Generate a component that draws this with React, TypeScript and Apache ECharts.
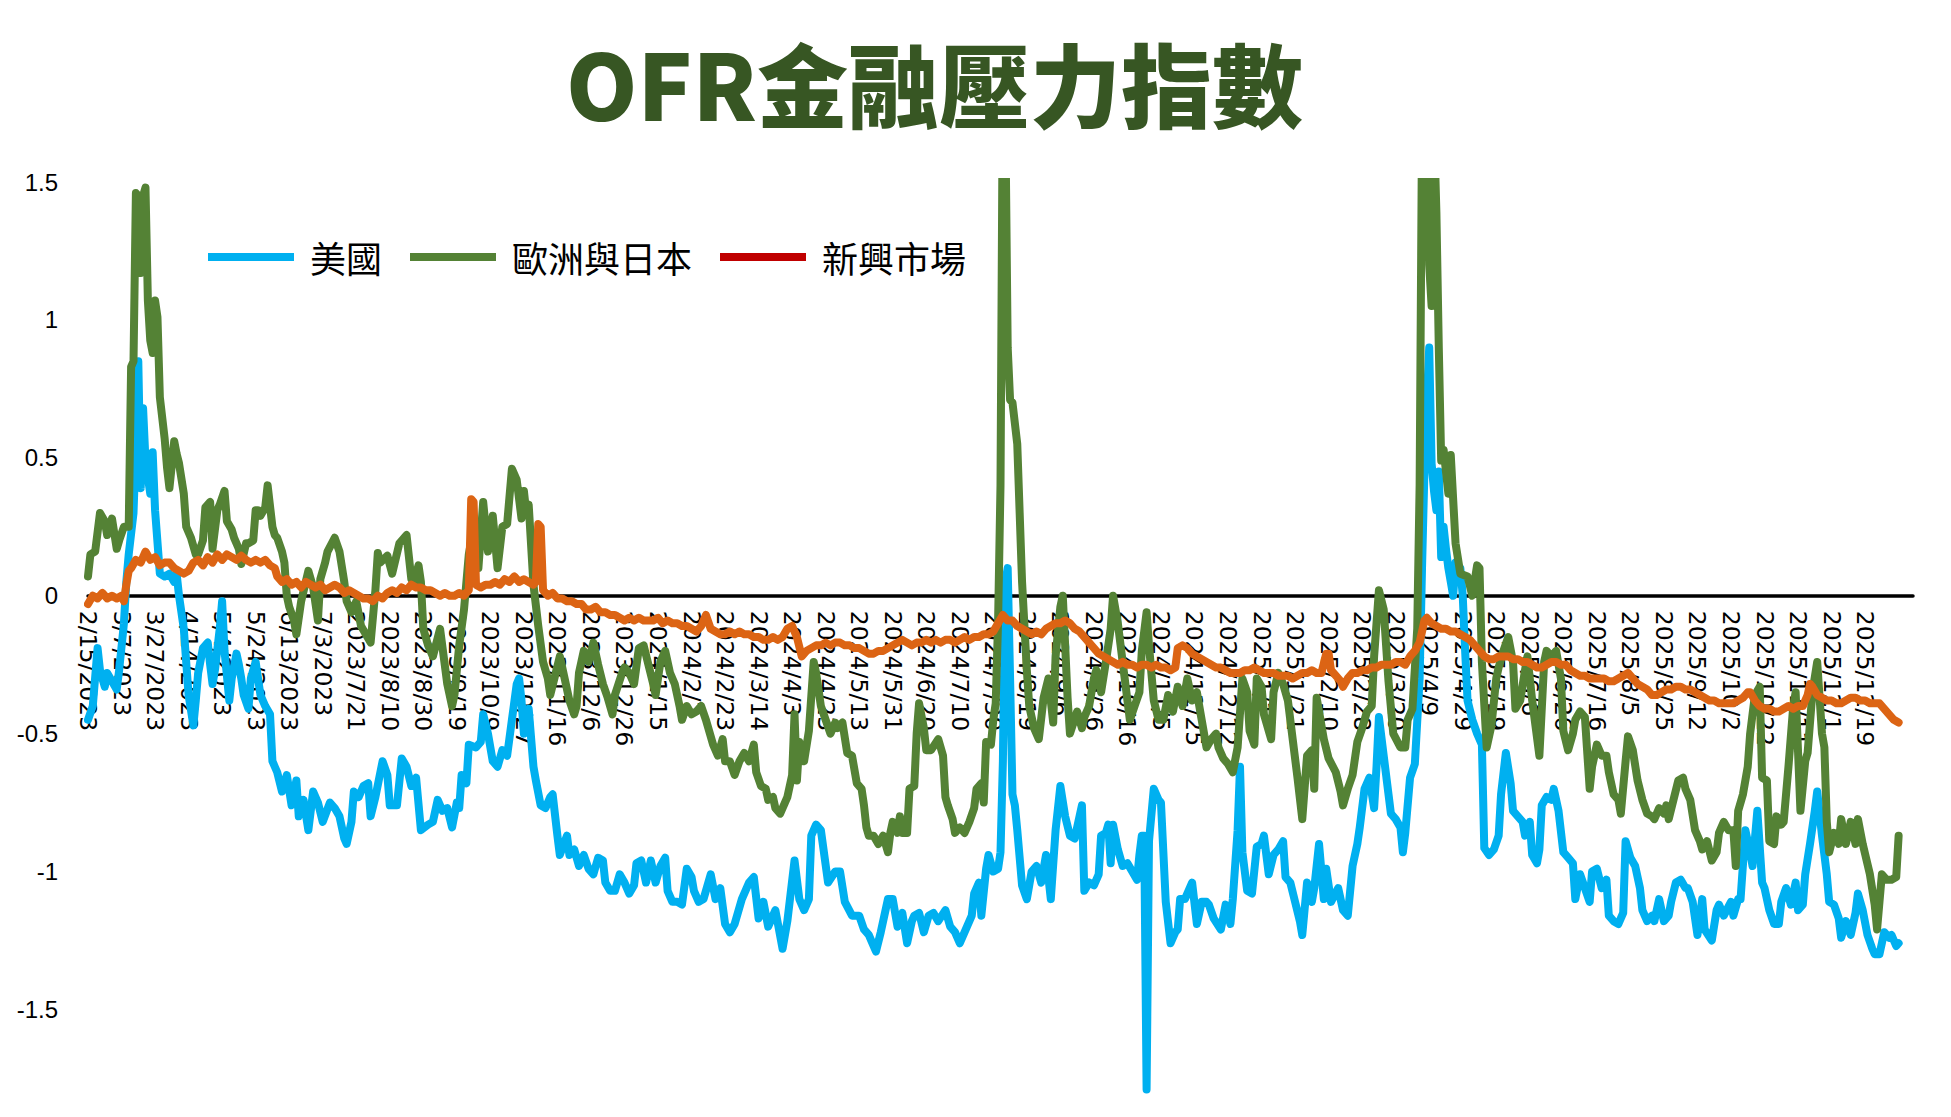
import React, { useEffect, useRef } from 'react';
import * as echarts from 'echarts';

// ---- categories: every trading weekday from START_DATE ----
const START_DATE = '2023-02-15';
const DAY_COUNT = 757;
const EXCLUDED_DATES = ['2024-02-19'];
const EXTRA_DATES = ['2024-11-30'];
const LABEL_STEP = 14;
const LAST_LABEL_INDEX = 742;
const AXIS_EXTRA = 6;

const TITLE = 'OFR金融壓力指數';
const SERIES_NAMES = ['美國', '歐洲與日本', '新興市場'];
const Y_LABELS = [-1.5, -1, -0.5, 0, 0.5, 1, 1.5];
const Y_MIN = -1.89;
const Y_MAX = 1.5;

// [weekday index, value]
const US: number[][] = [
  [0,-0.45],[2,-0.40],[4,-0.19],[5,-0.27],[7,-0.33],[8,-0.28],[10,-0.31],[12,-0.34],[13,-0.27],[15,-0.1],[16,0.05],[17,0.15],[19,0.3],[20,0.55],[21,0.85],[22,0.39],[23,0.68],[24,0.49],[26,0.37],[27,0.52],[28,0.31],[30,0.08],[32,0.07],[34,0.08],[36,0.05],[37,0.08],[38,0.0],[39,-0.06],[40,-0.12],[42,-0.36],[44,-0.47],[45,-0.38],[46,-0.28],[48,-0.19],[50,-0.17],[51,-0.25],[52,-0.32],[53,-0.27],[55,-0.12],[56,-0.02],[57,-0.2],[59,-0.38],[60,-0.3],[62,-0.21],[63,-0.25],[64,-0.3],[65,-0.36],[67,-0.41],[68,-0.3],[70,-0.24],[71,-0.3],[72,-0.36],[74,-0.4],[76,-0.43],[77,-0.6],[78,-0.62],[79,-0.64],[81,-0.71],[82,-0.68],[83,-0.65],[85,-0.76],[87,-0.67],[88,-0.8],[90,-0.74],[92,-0.85],[94,-0.71],[96,-0.75],[98,-0.82],[101,-0.75],[103,-0.77],[105,-0.8],[107,-0.88],[108,-0.9],[110,-0.82],[111,-0.71],[113,-0.73],[115,-0.69],[117,-0.68],[118,-0.8],[120,-0.73],[123,-0.6],[125,-0.65],[126,-0.76],[129,-0.76],[131,-0.59],[133,-0.62],[135,-0.69],[137,-0.66],[139,-0.85],[142,-0.83],[144,-0.82],[146,-0.74],[148,-0.78],[150,-0.77],[152,-0.84],[154,-0.75],[155,-0.77],[156,-0.65],[158,-0.68],[159,-0.54],[162,-0.55],[164,-0.53],[165,-0.43],[167,-0.5],[169,-0.6],[171,-0.62],[173,-0.56],[175,-0.58],[177,-0.45],[179,-0.32],[180,-0.3],[181,-0.38],[182,-0.5],[184,-0.41],[186,-0.62],[187,-0.67],[189,-0.76],[191,-0.77],[193,-0.73],[194,-0.72],[196,-0.87],[197,-0.94],[200,-0.87],[201,-0.94],[203,-0.92],[205,-0.98],[207,-0.94],[209,-0.99],[211,-1.01],[213,-0.95],[215,-0.96],[216,-1.04],[218,-1.07],[220,-1.07],[222,-1.01],[224,-1.04],[226,-1.08],[228,-1.05],[229,-0.97],[231,-0.96],[233,-1.04],[235,-0.96],[237,-1.04],[239,-0.98],[241,-0.95],[242,-1.07],[244,-1.11],[246,-1.11],[248,-1.12],[250,-0.99],[252,-1.02],[253,-1.07],[255,-1.11],[257,-1.1],[260,-1.01],[262,-1.1],[264,-1.06],[266,-1.19],[268,-1.22],[270,-1.19],[273,-1.1],[276,-1.04],[278,-1.02],[280,-1.17],[282,-1.11],[284,-1.2],[287,-1.14],[290,-1.28],[292,-1.18],[295,-0.96],[297,-1.1],[299,-1.14],[301,-1.1],[302,-0.87],[304,-0.83],[306,-0.85],[309,-1.04],[312,-1.0],[314,-1.0],[316,-1.11],[319,-1.16],[322,-1.16],[324,-1.21],[326,-1.23],[329,-1.29],[331,-1.22],[334,-1.1],[336,-1.1],[338,-1.2],[340,-1.15],[342,-1.26],[344,-1.18],[345,-1.16],[347,-1.15],[349,-1.22],[351,-1.16],[353,-1.15],[355,-1.18],[358,-1.14],[360,-1.2],[362,-1.22],[364,-1.26],[366,-1.22],[369,-1.16],[370,-1.08],[372,-1.04],[373,-1.16],[375,-0.99],[376,-0.94],[378,-1.0],[380,-0.99],[381,-0.93],[382,-0.6],[383,0.05],[384,0.1],[385,-0.3],[386,-0.72],[387,-0.76],[388,-0.85],[390,-1.05],[392,-1.1],[394,-1.0],[396,-0.98],[398,-1.04],[400,-0.94],[402,-1.1],[404,-0.85],[405,-0.77],[406,-0.69],[408,-0.8],[410,-0.87],[412,-0.88],[413,-0.84],[415,-0.76],[416,-1.07],[418,-1.04],[420,-1.05],[422,-1.01],[423,-0.87],[425,-0.86],[426,-0.83],[427,-0.97],[428,-0.83],[430,-0.92],[432,-0.98],[434,-0.97],[436,-1.0],[438,-1.03],[439,-0.94],[440,-0.87],[441,-0.87],[442,-1.79],[443,-0.89],[445,-0.7],[447,-0.74],[448,-0.75],[450,-1.11],[452,-1.26],[454,-1.22],[455,-1.21],[456,-1.1],[458,-1.1],[461,-1.04],[463,-1.19],[465,-1.11],[467,-1.11],[468,-1.12],[470,-1.17],[473,-1.21],[475,-1.12],[477,-1.19],[478,-1.1],[480,-0.85],[481,-0.62],[482,-0.93],[484,-1.07],[486,-1.08],[488,-0.91],[490,-0.9],[491,-0.87],[493,-1.01],[495,-0.94],[497,-0.92],[499,-0.89],[500,-1.02],[502,-1.04],[504,-1.11],[506,-1.18],[507,-1.23],[509,-1.04],[511,-1.11],[512,-1.06],[514,-0.9],[516,-1.1],[517,-0.99],[519,-1.11],[522,-1.06],[524,-1.14],[526,-1.16],[528,-0.98],[530,-0.9],[531,-0.84],[533,-0.7],[535,-0.66],[537,-0.77],[538,-0.62],[539,-0.44],[541,-0.58],[543,-0.72],[544,-0.79],[546,-0.81],[548,-0.84],[549,-0.93],[550,-0.86],[552,-0.66],[554,-0.61],[556,-0.3],[557,0.1],[558,0.45],[559,0.7],[560,0.9],[561,0.48],[562,0.38],[563,0.31],[564,0.45],[565,0.14],[566,0.25],[567,0.17],[568,0.1],[569,0.05],[570,0.0],[571,0.12],[572,0.05],[573,0.1],[574,0.0],[575,-0.2],[576,-0.38],[578,-0.45],[580,-0.5],[582,-0.54],[583,-0.915],[585,-0.94],[587,-0.92],[589,-0.87],[590,-0.72],[592,-0.57],[594,-0.68],[595,-0.78],[597,-0.8],[599,-0.82],[600,-0.87],[602,-0.82],[603,-0.94],[605,-0.97],[606,-0.92],[607,-0.76],[609,-0.73],[611,-0.74],[612,-0.7],[614,-0.78],[616,-0.93],[618,-0.95],[620,-0.97],[621,-1.1],[623,-1.01],[625,-1.06],[627,-1.11],[628,-1.0],[630,-0.99],[632,-1.06],[634,-1.03],[635,-1.16],[637,-1.18],[639,-1.19],[641,-1.15],[642,-0.89],[644,-0.95],[646,-0.98],[648,-1.06],[649,-1.14],[651,-1.18],[653,-1.16],[654,-1.18],[656,-1.1],[658,-1.18],[660,-1.16],[661,-1.11],[663,-1.04],[665,-1.03],[667,-1.06],[668,-1.06],[670,-1.11],[672,-1.23],[674,-1.1],[675,-1.21],[678,-1.25],[680,-1.14],[681,-1.12],[683,-1.16],[686,-1.11],[687,-1.16],[689,-1.1],[690,-1.1],[692,-0.85],[694,-0.93],[695,-0.98],[697,-0.78],[699,-1.04],[700,-1.06],[702,-1.14],[704,-1.19],[706,-1.19],[707,-1.11],[709,-1.06],[711,-1.12],[713,-1.04],[714,-1.14],[716,-1.12],[717,-1.01],[719,-0.9],[721,-0.78],[722,-0.71],[724,-0.87],[726,-1.01],[727,-1.11],[729,-1.12],[731,-1.17],[732,-1.24],[734,-1.18],[736,-1.23],[738,-1.15],[739,-1.08],[741,-1.14],[743,-1.23],[745,-1.28],[746,-1.3],[748,-1.3],[750,-1.22],[752,-1.24],[753,-1.23],[755,-1.27],[756,-1.26]
];

const EU_JP: number[][] = [
  [0,0.07],[1,0.15],[3,0.16],[5,0.30],[7,0.27],[8,0.22],[10,0.28],[12,0.17],[13,0.2],[15,0.25],[17,0.25],[18,0.83],[19,0.85],[20,1.46],[21,1.45],[22,1.17],[23,1.45],[24,1.48],[25,1.07],[26,0.925],[27,0.88],[28,1.07],[29,1.01],[30,0.72],[32,0.57],[33,0.465],[34,0.39],[36,0.56],[37,0.515],[38,0.48],[40,0.37],[41,0.25],[43,0.21],[45,0.15],[46,0.15],[48,0.2],[49,0.32],[51,0.34],[52,0.17],[54,0.31],[55,0.33],[57,0.38],[58,0.27],[60,0.24],[61,0.21],[63,0.17],[64,0.115],[66,0.19],[67,0.19],[69,0.2],[70,0.31],[71,0.31],[72,0.29],[74,0.32],[75,0.40],[77,0.25],[78,0.22],[79,0.21],[81,0.16],[82,0.12],[83,0.0],[84,-0.04],[86,-0.09],[87,-0.14],[89,-0.02],[92,0.09],[94,0.03],[96,-0.09],[97,0.06],[99,0.12],[100,0.16],[103,0.21],[105,0.16],[107,0.05],[108,-0.02],[110,-0.06],[112,-0.02],[114,-0.11],[116,-0.14],[118,-0.17],[120,0.02],[121,0.155],[122,0.12],[125,0.145],[127,0.08],[130,0.19],[132,0.21],[133,0.22],[135,0.06],[136,0.05],[138,0.11],[139,0.05],[140,-0.12],[142,-0.18],[144,-0.22],[147,-0.12],[150,-0.32],[152,-0.40],[153,-0.36],[155,-0.18],[157,-0.05],[159,0.15],[161,0.25],[163,0.1],[165,0.34],[167,0.16],[169,0.29],[171,0.1],[173,0.25],[175,0.26],[177,0.46],[179,0.42],[181,0.28],[182,0.38],[183,0.3],[184,0.33],[186,0.04],[188,-0.11],[190,-0.24],[192,-0.30],[193,-0.36],[195,-0.29],[197,-0.22],[199,-0.30],[201,-0.38],[203,-0.43],[204,-0.4],[205,-0.28],[207,-0.20],[209,-0.24],[211,-0.17],[213,-0.25],[215,-0.32],[217,-0.37],[219,-0.43],[220,-0.36],[223,-0.28],[224,-0.26],[226,-0.28],[228,-0.32],[230,-0.19],[232,-0.18],[234,-0.25],[236,-0.32],[237,-0.36],[239,-0.24],[241,-0.2],[243,-0.28],[245,-0.32],[247,-0.40],[248,-0.45],[250,-0.4],[252,-0.43],[254,-0.42],[256,-0.40],[258,-0.45],[259,-0.48],[261,-0.54],[263,-0.58],[265,-0.52],[266,-0.6],[268,-0.6],[270,-0.65],[272,-0.60],[274,-0.57],[276,-0.6],[278,-0.54],[279,-0.64],[281,-0.69],[283,-0.70],[284,-0.74],[286,-0.73],[287,-0.77],[289,-0.79],[291,-0.75],[292,-0.73],[294,-0.65],[295,-0.43],[296,-0.67],[297,-0.53],[299,-0.6],[301,-0.49],[303,-0.24],[304,-0.28],[306,-0.40],[308,-0.45],[310,-0.5],[312,-0.46],[313,-0.48],[315,-0.46],[317,-0.57],[319,-0.58],[321,-0.68],[323,-0.70],[324,-0.76],[325,-0.84],[326,-0.87],[328,-0.87],[330,-0.9],[332,-0.87],[334,-0.93],[335,-0.86],[336,-0.82],[338,-0.86],[339,-0.80],[340,-0.86],[342,-0.86],[343,-0.70],[345,-0.69],[346,-0.5],[347,-0.39],[349,-0.48],[350,-0.56],[352,-0.56],[355,-0.52],[357,-0.58],[358,-0.73],[359,-0.76],[361,-0.81],[362,-0.86],[364,-0.84],[366,-0.86],[368,-0.82],[370,-0.77],[371,-0.70],[373,-0.68],[374,-0.75],[375,-0.53],[377,-0.54],[378,-0.45],[379,-0.39],[380,-0.09],[381,0.4],[382,1.9],[383,1.75],[384,0.9],[385,0.71],[386,0.70],[388,0.55],[389,0.3],[390,0.05],[392,-0.27],[393,-0.40],[395,-0.48],[397,-0.52],[399,-0.37],[401,-0.30],[403,-0.46],[404,-0.22],[406,-0.04],[407,0.0],[408,-0.18],[409,-0.37],[410,-0.5],[413,-0.42],[415,-0.48],[416,-0.44],[418,-0.4],[420,-0.30],[421,-0.27],[423,-0.35],[425,-0.24],[427,-0.12],[428,0.0],[430,-0.10],[432,-0.24],[434,-0.38],[435,-0.45],[437,-0.40],[439,-0.35],[440,-0.2],[442,-0.06],[443,-0.18],[445,-0.38],[447,-0.45],[449,-0.45],[451,-0.36],[453,-0.42],[455,-0.33],[457,-0.40],[459,-0.30],[461,-0.38],[463,-0.35],[465,-0.45],[467,-0.55],[469,-0.52],[471,-0.50],[472,-0.55],[474,-0.59],[476,-0.61],[478,-0.64],[480,-0.55],[482,-0.30],[484,-0.35],[485,-0.49],[487,-0.54],[488,-0.3],[490,-0.33],[491,-0.43],[494,-0.52],[495,-0.35],[497,-0.28],[499,-0.32],[501,-0.38],[503,-0.52],[505,-0.66],[507,-0.81],[509,-0.58],[511,-0.56],[512,-0.70],[513,-0.37],[516,-0.52],[518,-0.59],[521,-0.64],[523,-0.71],[524,-0.76],[526,-0.70],[528,-0.65],[530,-0.53],[532,-0.48],[534,-0.42],[536,-0.4],[537,-0.22],[539,0.02],[541,-0.05],[543,-0.31],[545,-0.50],[548,-0.55],[550,-0.55],[551,-0.45],[553,-0.41],[555,-0.12],[556,0.4],[557,1.7],[558,1.6],[559,1.9],[560,1.2],[561,1.05],[562,1.7],[563,1.39],[564,0.9],[565,0.49],[566,0.53],[568,0.37],[569,0.51],[571,0.19],[573,0.08],[576,0.07],[578,0.0],[580,0.11],[581,0.1],[582,-0.24],[584,-0.55],[586,-0.47],[588,-0.30],[589,-0.26],[591,-0.2],[593,-0.15],[595,-0.24],[596,-0.41],[598,-0.38],[600,-0.27],[601,-0.22],[603,-0.38],[606,-0.58],[608,-0.24],[609,-0.20],[611,-0.22],[613,-0.2],[615,-0.30],[616,-0.49],[618,-0.56],[620,-0.5],[621,-0.45],[623,-0.42],[625,-0.44],[627,-0.7],[628,-0.62],[630,-0.54],[632,-0.58],[634,-0.58],[635,-0.64],[637,-0.72],[639,-0.74],[640,-0.79],[642,-0.6],[643,-0.51],[645,-0.56],[647,-0.67],[649,-0.74],[651,-0.79],[653,-0.80],[654,-0.81],[656,-0.77],[658,-0.79],[659,-0.76],[660,-0.81],[662,-0.74],[664,-0.67],[666,-0.66],[667,-0.70],[669,-0.74],[671,-0.85],[673,-0.89],[674,-0.92],[676,-0.89],[678,-0.96],[680,-0.93],[681,-0.86],[683,-0.82],[685,-0.85],[687,-0.85],[688,-0.98],[689,-0.78],[691,-0.72],[693,-0.62],[694,-0.50],[696,-0.36],[698,-0.33],[699,-0.66],[701,-0.67],[702,-0.89],[704,-0.90],[705,-0.80],[707,-0.83],[708,-0.82],[710,-0.62],[712,-0.40],[713,-0.35],[715,-0.78],[717,-0.6],[718,-0.57],[720,-0.35],[722,-0.24],[724,-0.50],[725,-0.55],[726,-0.82],[727,-0.93],[729,-0.86],[731,-0.90],[732,-0.81],[734,-0.90],[736,-0.82],[738,-0.90],[739,-0.81],[741,-0.90],[744,-1.01],[746,-1.12],[747,-1.21],[748,-1.11],[749,-1.01],[751,-1.03],[753,-1.03],[755,-1.02],[756,-0.87]
];

const EM: number[][] = [
  [0,-0.03],[2,0.0],[4,-0.01],[6,0.01],[8,-0.01],[10,0.0],[12,-0.01],[14,0.0],[15,-0.02],[16,0.04],[17,0.09],[18,0.1],[20,0.13],[22,0.12],[24,0.16],[26,0.13],[28,0.14],[30,0.11],[32,0.12],[34,0.12],[36,0.10],[38,0.09],[40,0.08],[42,0.09],[44,0.12],[46,0.13],[48,0.11],[50,0.14],[52,0.12],[54,0.15],[56,0.13],[58,0.15],[60,0.14],[62,0.13],[64,0.145],[66,0.13],[68,0.12],[70,0.13],[72,0.12],[74,0.13],[76,0.11],[78,0.1],[79,0.07],[81,0.05],[83,0.06],[85,0.04],[87,0.05],[89,0.03],[91,0.05],[93,0.04],[95,0.03],[97,0.04],[99,0.02],[101,0.03],[103,0.04],[105,0.03],[107,0.01],[109,0.02],[111,0.01],[113,0.0],[115,-0.01],[117,-0.01],[119,-0.02],[121,0.0],[123,-0.01],[125,0.01],[127,0.02],[129,0.01],[131,0.03],[133,0.02],[135,0.04],[137,0.03],[139,0.03],[141,0.02],[143,0.02],[145,0.01],[147,0.0],[149,0.01],[151,0.0],[153,0.0],[155,0.01],[157,0.0],[159,0.02],[160,0.35],[161,0.34],[162,0.04],[164,0.03],[166,0.04],[168,0.04],[170,0.05],[172,0.04],[174,0.06],[176,0.05],[178,0.07],[180,0.05],[182,0.06],[184,0.05],[186,0.04],[187,0.05],[188,0.26],[189,0.25],[190,0.02],[192,0.0],[194,0.01],[196,-0.01],[198,-0.01],[200,-0.02],[202,-0.02],[204,-0.03],[206,-0.03],[208,-0.05],[210,-0.05],[212,-0.04],[214,-0.06],[216,-0.06],[218,-0.07],[220,-0.07],[222,-0.08],[224,-0.09],[226,-0.08],[228,-0.09],[230,-0.08],[232,-0.09],[234,-0.09],[236,-0.09],[238,-0.08],[240,-0.1],[242,-0.09],[244,-0.1],[246,-0.1],[248,-0.11],[250,-0.11],[252,-0.12],[254,-0.13],[256,-0.11],[258,-0.07],[260,-0.12],[262,-0.13],[264,-0.14],[266,-0.14],[268,-0.13],[270,-0.14],[272,-0.13],[274,-0.14],[276,-0.14],[278,-0.15],[280,-0.15],[282,-0.16],[284,-0.16],[286,-0.15],[288,-0.16],[290,-0.15],[292,-0.12],[294,-0.11],[296,-0.15],[298,-0.22],[300,-0.2],[302,-0.19],[304,-0.18],[306,-0.18],[308,-0.17],[310,-0.18],[312,-0.17],[314,-0.17],[316,-0.18],[318,-0.18],[320,-0.19],[322,-0.19],[324,-0.2],[326,-0.21],[328,-0.21],[330,-0.2],[332,-0.2],[334,-0.19],[336,-0.18],[338,-0.17],[340,-0.16],[342,-0.17],[344,-0.18],[346,-0.17],[348,-0.17],[350,-0.16],[352,-0.17],[354,-0.16],[356,-0.17],[358,-0.16],[360,-0.16],[362,-0.17],[364,-0.16],[366,-0.15],[368,-0.16],[370,-0.15],[372,-0.15],[374,-0.14],[376,-0.14],[378,-0.13],[380,-0.1],[382,-0.07],[384,-0.09],[386,-0.09],[388,-0.11],[390,-0.12],[392,-0.13],[394,-0.14],[396,-0.13],[398,-0.14],[400,-0.12],[402,-0.11],[404,-0.10],[406,-0.1],[408,-0.09],[410,-0.1],[412,-0.12],[414,-0.13],[416,-0.15],[418,-0.17],[420,-0.19],[422,-0.21],[424,-0.22],[426,-0.23],[428,-0.24],[430,-0.25],[432,-0.24],[434,-0.25],[436,-0.25],[438,-0.26],[440,-0.25],[442,-0.25],[444,-0.26],[446,-0.25],[448,-0.26],[450,-0.26],[452,-0.27],[454,-0.26],[455,-0.19],[457,-0.18],[459,-0.19],[461,-0.21],[463,-0.22],[465,-0.23],[467,-0.24],[469,-0.25],[471,-0.26],[473,-0.26],[475,-0.27],[477,-0.28],[479,-0.28],[481,-0.28],[483,-0.27],[485,-0.27],[487,-0.26],[489,-0.27],[491,-0.28],[493,-0.28],[495,-0.28],[497,-0.29],[499,-0.29],[501,-0.29],[503,-0.30],[505,-0.29],[507,-0.28],[509,-0.28],[511,-0.27],[513,-0.28],[515,-0.28],[517,-0.21],[518,-0.21],[519,-0.27],[521,-0.29],[523,-0.31],[524,-0.33],[526,-0.30],[528,-0.28],[530,-0.28],[532,-0.27],[534,-0.27],[536,-0.26],[538,-0.26],[540,-0.25],[542,-0.25],[544,-0.25],[546,-0.24],[548,-0.24],[550,-0.25],[552,-0.22],[554,-0.2],[556,-0.17],[558,-0.09],[559,-0.08],[561,-0.1],[563,-0.11],[565,-0.12],[567,-0.12],[569,-0.13],[571,-0.13],[573,-0.14],[575,-0.15],[577,-0.16],[579,-0.18],[581,-0.2],[583,-0.22],[585,-0.23],[587,-0.23],[589,-0.22],[591,-0.22],[593,-0.22],[595,-0.23],[597,-0.23],[599,-0.24],[601,-0.24],[603,-0.25],[605,-0.26],[607,-0.26],[609,-0.25],[611,-0.24],[613,-0.24],[615,-0.25],[617,-0.25],[619,-0.27],[621,-0.28],[623,-0.29],[625,-0.29],[627,-0.30],[629,-0.30],[631,-0.3],[633,-0.30],[635,-0.31],[637,-0.31],[639,-0.30],[641,-0.29],[643,-0.28],[645,-0.30],[647,-0.32],[649,-0.33],[651,-0.34],[653,-0.36],[655,-0.36],[657,-0.35],[659,-0.34],[661,-0.34],[663,-0.33],[665,-0.33],[667,-0.34],[669,-0.34],[671,-0.35],[673,-0.36],[675,-0.37],[677,-0.38],[679,-0.38],[681,-0.39],[683,-0.39],[685,-0.39],[687,-0.39],[689,-0.38],[691,-0.37],[693,-0.35],[694,-0.35],[696,-0.38],[698,-0.40],[700,-0.41],[702,-0.41],[704,-0.42],[706,-0.42],[708,-0.41],[710,-0.40],[712,-0.41],[714,-0.40],[716,-0.40],[718,-0.36],[719,-0.32],[720,-0.33],[722,-0.36],[724,-0.37],[726,-0.38],[728,-0.38],[730,-0.39],[732,-0.39],[734,-0.38],[736,-0.37],[738,-0.37],[740,-0.38],[742,-0.38],[744,-0.39],[746,-0.39],[748,-0.39],[750,-0.41],[752,-0.43],[754,-0.45],[756,-0.46]
];

function isoDate(d: Date): string {
  return d.toISOString().slice(0, 10);
}

function formatDate(iso: string): string {
  const [ys, ms, ds] = iso.split('-');
  const y = Number(ys), m = Number(ms), day = Number(ds);
  const early = y === 2023 && (m < 7 || (m === 7 && day < 10));
  return early ? `${m}/${day}/${y}` : `${y}/${m}/${day}`;
}

function buildCategories(): string[] {
  const out: string[] = [];
  const d = new Date(START_DATE + 'T00:00:00Z');
  while (out.length < DAY_COUNT) {
    const iso = isoDate(d);
    const wd = d.getUTCDay();
    const weekday = wd !== 0 && wd !== 6;
    if ((weekday && !EXCLUDED_DATES.includes(iso)) || EXTRA_DATES.includes(iso)) {
      out.push(formatDate(iso));
    }
    d.setUTCDate(d.getUTCDate() + 1);
  }
  return out;
}

const COLORS = { us: '#00B0F0', eu: '#548235', em: '#DC6414', emLegend: '#C00000', title: '#375623' };

const WIDTH = 1951;
const HEIGHT = 1117;
const GRID = { left: 88, right: 38, top: 182, bottom: 0 };

export default function App() {
  const ref = useRef<HTMLDivElement>(null);
  useEffect(() => {
    if (!ref.current) return;
    document.body.style.margin = '0';
    document.body.style.overflow = 'hidden';
    const chart = echarts.init(ref.current, undefined, { renderer: 'svg' });
    const categories = buildCategories();
    const gridHeight = HEIGHT - GRID.top - GRID.bottom;
    // move the category axis (line + labels) up to the y = 0 level
    const zeroOffset = -gridHeight * (0 - Y_MIN) / (Y_MAX - Y_MIN);
    const lineCommon = { type: 'line', showSymbol: false, symbol: 'none', clip: true, smooth: false };
    chart.setOption({
      animation: false,
      backgroundColor: '#ffffff',
      title: {
        text: TITLE,
        left: 566,
        top: 35,
        padding: 0,
        textAlign: 'left',
        textStyle: { fontSize: 91, lineHeight: 91, fontWeight: 900, color: COLORS.title, fontFamily: 'Noto Sans CJK TC' },
      },
      legend: {
        left: 203,
        top: 232,
        itemWidth: 86,
        itemHeight: 8,
        itemGap: 28,
        icon: 'rect',
        textStyle: { fontSize: 36, lineHeight: 40, color: '#000', fontFamily: 'Noto Sans CJK TC', padding: [0, 0, 0, 11] },
        data: [
          { name: SERIES_NAMES[0], itemStyle: { color: COLORS.us } },
          { name: SERIES_NAMES[1], itemStyle: { color: COLORS.eu } },
          { name: SERIES_NAMES[2], itemStyle: { color: COLORS.emLegend } },
        ],
      },
      grid: { ...GRID, containLabel: false, outerBoundsMode: 'none' },
      xAxis: {
        type: 'category',
        data: categories,
        boundaryGap: false,
        max: DAY_COUNT - 1 + AXIS_EXTRA,
        offset: zeroOffset,
        axisLine: { onZero: false, lineStyle: { color: '#000', width: 3.5 } },
        axisTick: { show: false },
        splitLine: { show: false },
        axisLabel: {
          interval: (i: number) => i % LABEL_STEP === 0 && i <= LAST_LABEL_INDEX,
          rotate: -90,
          margin: 15,
          fontFamily: 'DejaVu Sans',
          fontSize: 23.5,
          color: '#000',
        },
      },
      yAxis: {
        type: 'value',
        min: Y_MIN,
        max: Y_MAX,
        axisLine: { show: false },
        axisTick: { show: false },
        splitLine: { show: false },
        axisLabel: {
          customValues: Y_LABELS,
          margin: 30,
          fontFamily: 'Liberation Sans',
          fontSize: 24,
          color: '#000',
          formatter: (v: number) => String(v),
        },
      },
      series: [
        { ...lineCommon, name: SERIES_NAMES[0], data: US, lineStyle: { color: COLORS.us, width: 8, cap: 'round', join: 'round' }, itemStyle: { color: COLORS.us } },
        { ...lineCommon, name: SERIES_NAMES[1], data: EU_JP, lineStyle: { color: COLORS.eu, width: 8, cap: 'round', join: 'round' }, itemStyle: { color: COLORS.eu } },
        { ...lineCommon, name: SERIES_NAMES[2], data: EM, lineStyle: { color: COLORS.em, width: 8, cap: 'round', join: 'round' }, itemStyle: { color: COLORS.em } },
      ],
    });
    return () => chart.dispose();
  }, []);
  return <div ref={ref} style={{ position: 'fixed', left: 0, top: 0, width: WIDTH, height: HEIGHT, background: '#fff' }} />;
}
